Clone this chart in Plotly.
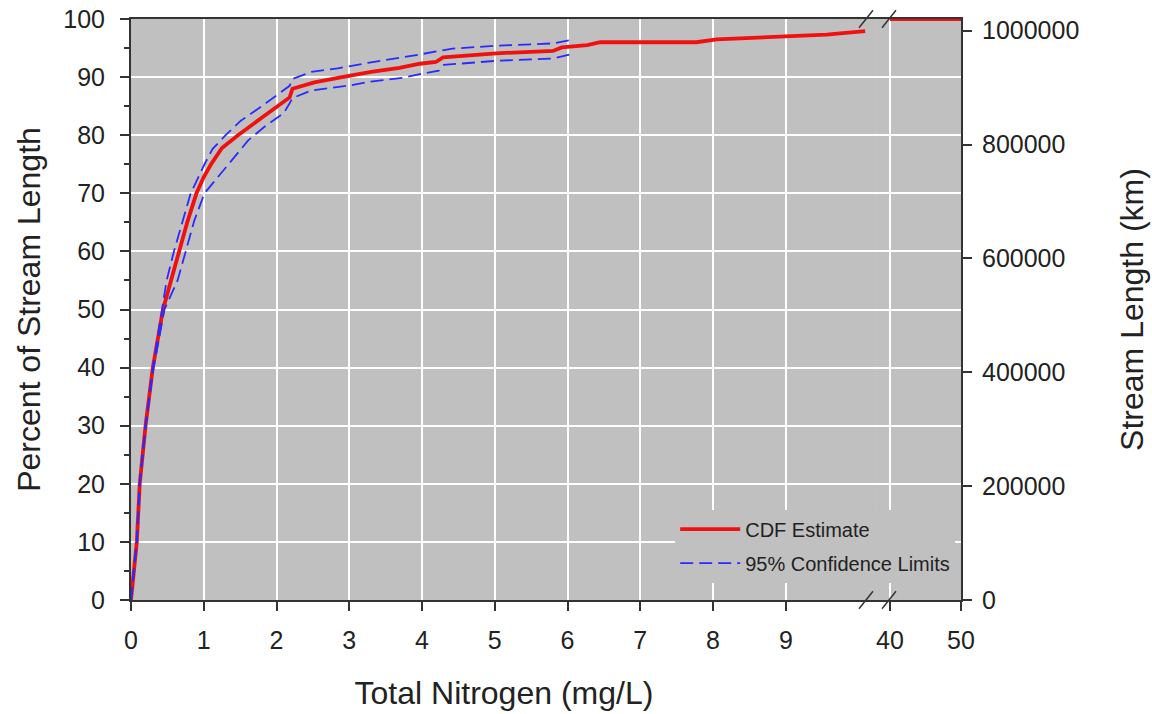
import plotly.graph_objects as go

# ---- data ----
cdf_x = [0, 0.04, 0.08, 0.12, 0.20, 0.30, 0.44, 0.55, 0.66, 0.78, 0.90, 1.00, 1.10, 1.25, 1.47,
         1.78, 2.00, 2.18, 2.22, 2.52, 2.90, 3.30, 3.69, 3.97, 4.19, 4.29, 5.02, 5.80, 5.92,
         6.27, 6.45, 7.77, 8.05, 8.88, 9.56, 10.09]
cdf_y = [0, 5, 10, 20, 30, 40, 50, 55, 60, 65.3, 70, 72.8, 75, 77.8, 80,
         82.8, 84.8, 86.5, 88.0, 89.1, 90.0, 90.9, 91.6, 92.3, 92.6, 93.4, 94.1, 94.5, 95.1,
         95.5, 96.0, 96.0, 96.5, 97.0, 97.3, 97.9]

up_x = [0, 0.08, 0.12, 0.20, 0.30, 0.42, 0.49, 0.59, 0.71, 0.82, 1.01, 1.12, 1.30, 1.51, 1.81,
        2.06, 2.18, 2.22, 2.48, 2.84, 3.28, 3.97, 4.42, 5.02, 5.80, 6.10]
up_y = [0, 10, 20, 30, 40, 50, 55, 60, 65.3, 70, 75, 77.6, 80, 82.5, 85.1,
        87.4, 88.5, 89.7, 90.9, 91.5, 92.5, 93.9, 94.9, 95.4, 95.8, 96.5]

lo_x = [0, 0.08, 0.12, 0.20, 0.31, 0.46, 0.64, 0.75, 0.87, 1.01, 1.23, 1.41, 1.61, 1.83, 2.10,
        2.18, 2.22, 2.48, 3.02, 3.28, 3.74, 3.97, 4.23, 4.30, 5.02, 5.80, 6.10]
lo_y = [0, 10, 20, 30, 40, 50, 55, 60, 65.3, 70, 73.3, 76.2, 79.1, 81.4, 83.8,
        85.5, 86.4, 87.7, 88.6, 89.2, 89.9, 90.5, 91.1, 92.1, 92.8, 93.2, 94.1]

tail_x = [40, 50]
tail_y = [100, 100]

x_ticks_low = [0, 1, 2, 3, 4, 5, 6, 7, 8, 9]
x_ticks_high = [40, 50]
y_ticks = [0, 10, 20, 30, 40, 50, 60, 70, 80, 90, 100]
km_ticks = [0, 200000, 400000, 600000, 800000, 1000000]
TOTAL_KM = 1020500

# ---- styling ----
FONT = "Liberation Sans, Arial, sans-serif"
BG = "#c0c0c0"
AX = "#333333"
RED = "#f01010"
BLUE = "#2a2aff"
SPLIT = 0.8987
ML, MR, MT, MB = 131, 191, 19, 114

fig = go.Figure()
fig.add_trace(go.Scatter(x=cdf_x, y=cdf_y, mode="lines", name="CDF Estimate",
                         legendgroup="a",
                         line=dict(color=RED, width=3.8), xaxis="x", yaxis="y"))
fig.add_trace(go.Scatter(x=up_x, y=up_y, mode="lines", name="95% Confidence Limits",
                         legendgroup="b",
                         line=dict(color=BLUE, width=1.8, dash="13px,6px"), xaxis="x", yaxis="y"))
fig.add_trace(go.Scatter(x=lo_x, y=lo_y, mode="lines", showlegend=False, legendgroup="b",
                         line=dict(color=BLUE, width=1.8, dash="13px,6px"), xaxis="x", yaxis="y"))
fig.add_trace(go.Scatter(x=tail_x, y=tail_y, mode="lines", showlegend=False, legendgroup="a",
                         line=dict(color=RED, width=3.8), xaxis="x2", yaxis="y2"))
# invisible helper so the right-hand km axis is drawn
fig.add_trace(go.Scatter(x=[tail_x[0]], y=[0], mode="markers", showlegend=False,
                         marker=dict(opacity=0), hoverinfo="skip", xaxis="x2", yaxis="y3"))

tickfont = dict(family=FONT, size=25, color="#222222")
titlefont = dict(family=FONT, size=32, color="#222222")

fig.update_layout(
    width=1152, height=714,
    margin=dict(l=ML, r=MR, t=MT, b=MB),
    paper_bgcolor="white", plot_bgcolor=BG,
    font=dict(family=FONT, color="#222222"),
    xaxis=dict(domain=[0, SPLIT], range=[0, 10.252], tickvals=x_ticks_low,
               showgrid=True, gridcolor="white", gridwidth=1.5, zeroline=False,
               showline=True, linecolor=AX, linewidth=2, mirror=True,
               ticks="outside", ticklen=9, tickwidth=1.5, tickcolor=AX,
               tickfont=tickfont, ticklabelstandoff=8, automargin=False,
               ticklabeloverflow="allow",
               title=dict(text="Total Nitrogen (mg/L)", font=titlefont, standoff=29),
               anchor="y"),
    xaxis2=dict(domain=[SPLIT, 1], range=[38.17, 50], tickvals=x_ticks_high,
                showgrid=True, gridcolor="white", gridwidth=1.5, zeroline=False,
                showline=True, linecolor=AX, linewidth=2, mirror=True,
                ticks="outside", ticklen=9, tickwidth=1.5, tickcolor=AX,
                tickfont=tickfont, ticklabelstandoff=8, automargin=False,
                ticklabeloverflow="allow", anchor="y2"),
    yaxis=dict(range=[0, 100], tickvals=y_ticks, anchor="x",
               showgrid=True, gridcolor="white", gridwidth=1.5, zeroline=False,
               showline=True, linecolor=AX, linewidth=2,
               ticks="outside", ticklen=9, tickwidth=1.5, tickcolor=AX,
               minor=dict(dtick=5, ticks="outside", ticklen=5, tickcolor=AX, showgrid=False),
               tickfont=tickfont, ticklabelstandoff=10, automargin=False,
               ticklabeloverflow="allow",
               title=dict(text="Percent of Stream Length", font=titlefont, standoff=13)),
    yaxis2=dict(range=[0, 100], tickvals=y_ticks, anchor="x2", matches="y",
                showgrid=True, gridcolor="white", gridwidth=1.5, zeroline=False,
                showline=False, showticklabels=False, automargin=False),
    yaxis3=dict(range=[0, TOTAL_KM], tickvals=km_ticks, anchor="x2", overlaying="y2",
                side="right", showgrid=False, zeroline=False,
                showline=True, linecolor=AX, linewidth=2,
                ticks="outside", ticklen=9, tickwidth=1.5, tickcolor=AX,
                tickfont=tickfont, tickformat="d", ticklabelstandoff=5, automargin=False,
                ticklabeloverflow="allow",
                title=dict(text="Stream Length (km)", font=titlefont, standoff=42)),
    legend=dict(x=0.993, y=0.03, xanchor="right", yanchor="bottom",
                bgcolor=BG, borderwidth=0, itemwidth=60,
                font=dict(family=FONT, size=20, color="#222222"),
                traceorder="grouped", tracegroupgap=5),
    showlegend=True,
)

# axis-break slashes (decoration) at both ends of the break
def px2paper(px):
    return (px - ML) / (1152 - ML - MR)

for bx in (866, 889):
    for by in (0, 1):
        fig.add_shape(type="line", xref="paper", yref="paper",
                      x0=px2paper(bx - 7), x1=px2paper(bx + 7),
                      y0=by - 0.015, y1=by + 0.015,
                      line=dict(color=AX, width=1.5), layer="above")

fig.write_html("out.html", config={"displayModeBar": False},
               post_script="document.body.style.margin='0';document.body.style.overflow='hidden';")
